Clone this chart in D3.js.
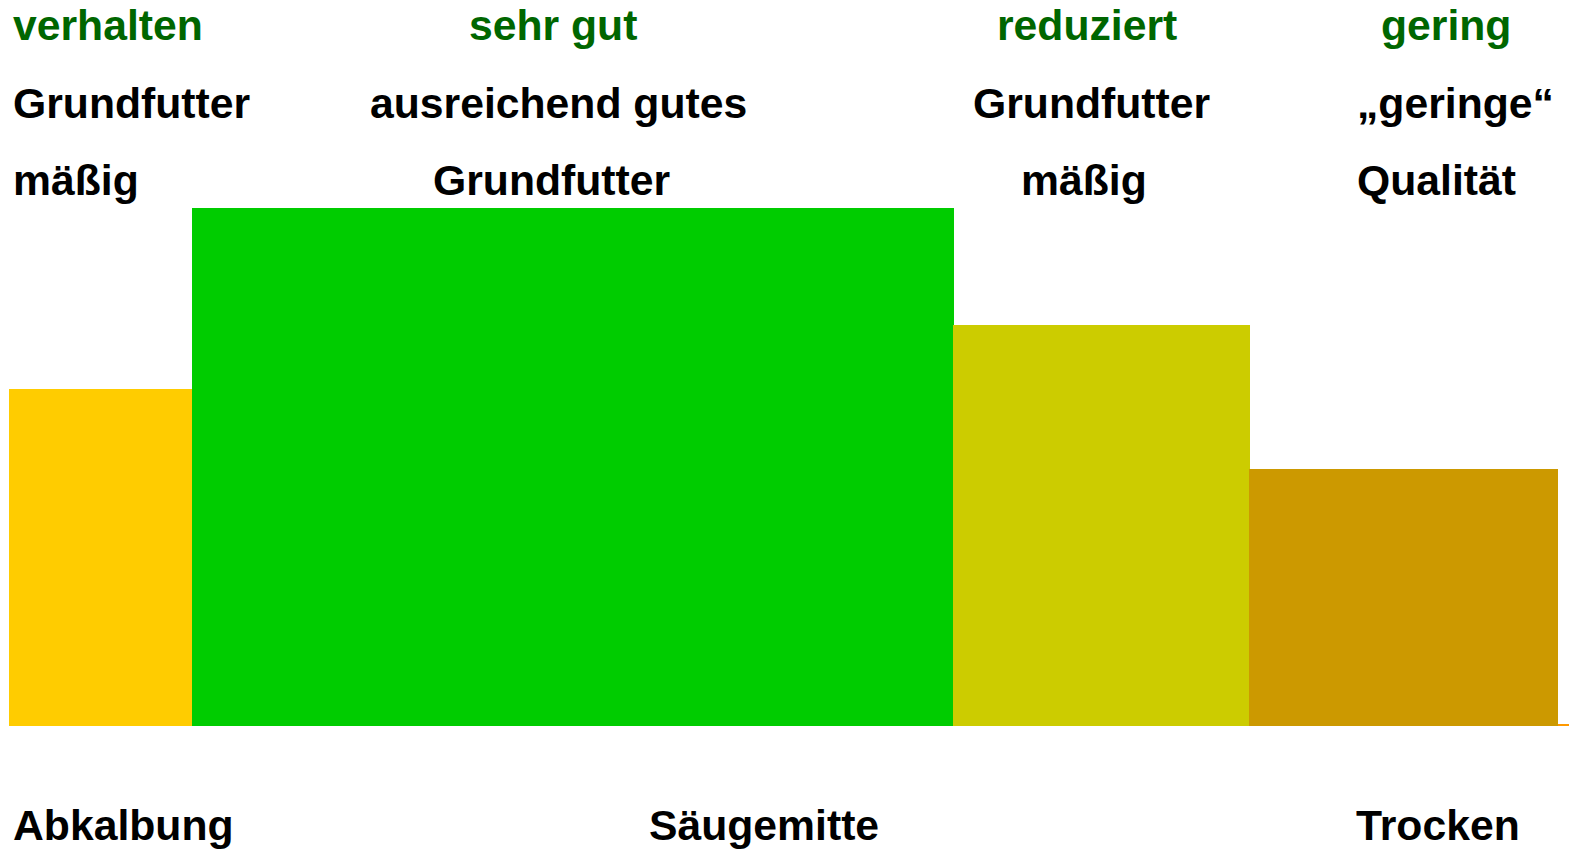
<!DOCTYPE html>
<html><head><meta charset="utf-8">
<script src="https://cdn.jsdelivr.net/npm/d3@7"></script>
<style>html,body{margin:0;padding:0;background:#fff;}svg{display:block;}</style>
</head><body>
<svg id="chart" width="1569" height="850"></svg>
<script>
// Phase segments (arbitrary time units) and energy level (arbitrary units)
const phaseStart = [0, 183, 944, 1240];
const phaseEnd   = [183, 945, 1241, 1549];
const phaseLevel = [337, 518, 401, 257];
const phaseColor = ["#FFCC00", "#00CC00", "#CCCC00", "#CC9900"];

// Header labels per phase column
const row1 = ["verhalten", "sehr gut", "reduziert", "gering"];
const row2 = ["Grundfutter", "ausreichend gutes", "Grundfutter", "\u201Egeringe\u201C"];
const row3 = ["mäßig", "Grundfutter", "mäßig", "Qualität"];
// Bottom tick labels
const tickLabels = ["Abkalbung", "Säugemitte", "Trocken"];
const tickValues = [4, 640, 1347];

// layout
const row1X = [13, 469, 997, 1381];
const row2X = [13, 370, 973, 1357];
const row3X = [13, 433, 1021, 1357];
const rowY = [40, 118, 195];

const svg = d3.select("#chart");
const x = d3.scaleLinear().domain([0, 1549]).range([9, 1558]);
const y = d3.scaleLinear().domain([0, 726]).range([726, 0]);

// baseline
svg.append("line")
  .attr("x1", x(0)).attr("x2", 1569)
  .attr("y1", 725).attr("y2", 725)
  .attr("stroke", "#FF9900").attr("stroke-width", 2);

svg.selectAll("rect.bar").data(phaseLevel).join("rect")
  .attr("class", "bar")
  .attr("x", (d, i) => x(phaseStart[i]))
  .attr("width", (d, i) => x(phaseEnd[i]) - x(phaseStart[i]))
  .attr("y", d => y(d))
  .attr("height", d => y(0) - y(d))
  .attr("fill", (d, i) => phaseColor[i]);

const font = "'Liberation Sans', Arial, sans-serif";
const fs = 42.7;
function row(labels, xs, yy, color) {
  svg.append("g").selectAll("text").data(labels).join("text")
    .attr("x", (d, i) => xs[i]).attr("y", yy)
    .attr("font-family", font).attr("font-weight", "bold")
    .attr("font-size", fs).attr("fill", color)
    .text(d => d);
}
row(row1, row1X, rowY[0], "#006600");
row(row2, row2X, rowY[1], "#000");
row(row3, row3X, rowY[2], "#000");

svg.append("g").selectAll("text").data(tickLabels).join("text")
  .attr("x", (d, i) => x(tickValues[i]))
  .attr("y", 840)
  .attr("font-family", font).attr("font-weight", "bold")
  .attr("font-size", fs).attr("fill", "#000")
  .text(d => d);
</script>
</body></html>
